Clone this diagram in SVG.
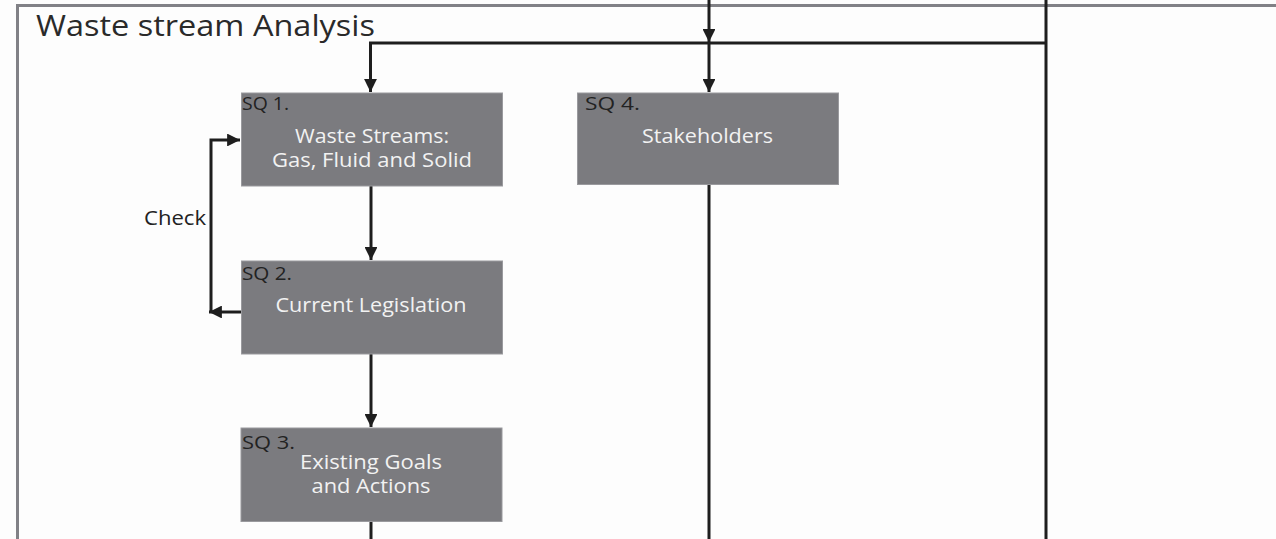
<svg xmlns="http://www.w3.org/2000/svg" width="1276" height="539" viewBox="0 0 1276 539">
<style>
.box{fill:#7b7b7f;stroke:#9a9a9e;stroke-width:1}
.lbl{font-family:"Open Sans","Liberation Sans",sans-serif;font-size:19px;fill:#222}
.txt{font-family:"Open Sans","Liberation Sans",sans-serif;font-size:20px;fill:#f2f2f2;text-anchor:middle}
.ln{fill:none;stroke:#1e1e1e;stroke-width:3}
</style>
<defs>
<marker id="ah" viewBox="0 0 10 10" refX="10" refY="5" markerWidth="4.3" markerHeight="4.3" orient="auto" markerUnits="strokeWidth">
<path d="M0,0 L10,5 L0,10 z" fill="#1e1e1e"/>
</marker>
</defs>
<rect x="0" y="0" width="1276" height="539" fill="#fdfdfd"/>
<path d="M17.5,539 V5.5 H1276" fill="none" stroke="#818186" stroke-width="3"/>
<text x="36" y="36" font-family="'Open Sans','Liberation Sans',sans-serif" font-size="29.5" fill="#2a2a2a" textLength="339" lengthAdjust="spacingAndGlyphs">Waste stream Analysis</text>
<g id="connectors">
<path class="ln" d="M709,0 V42" marker-end="url(#ah)"/>
<path class="ln" d="M1046,0 V539"/>
<path class="ln" d="M1046,43 H370.5 V92" marker-end="url(#ah)"/>
<path class="ln" d="M709,43 V92" marker-end="url(#ah)"/>
<path class="ln" d="M371,186 V260" marker-end="url(#ah)"/>
<path class="ln" d="M371,354 V427" marker-end="url(#ah)"/>
<path class="ln" d="M371,522 V539"/>
<path class="ln" d="M709,185 V539"/>
<path class="ln" d="M241,312 H209" marker-end="url(#ah)"/>
<path class="ln" d="M211,312 V140 H240" marker-end="url(#ah)"/>
<text x="144" y="225" font-family="'Open Sans','Liberation Sans',sans-serif" font-size="20" fill="#222" textLength="62" lengthAdjust="spacingAndGlyphs">Check</text>
</g>
<g id="sq1">
<rect class="box" x="241.5" y="93" width="261" height="93"/>
<text class="lbl" x="242" y="110" textLength="47" lengthAdjust="spacingAndGlyphs">SQ 1.</text>
<text class="txt" x="372" y="143" textLength="154" lengthAdjust="spacingAndGlyphs">Waste Streams:</text>
<text class="txt" x="372" y="167" textLength="200" lengthAdjust="spacingAndGlyphs">Gas, Fluid and Solid</text>
</g>
<g id="sq2">
<rect class="box" x="241.5" y="261" width="261" height="93"/>
<text class="lbl" x="242" y="280" textLength="50" lengthAdjust="spacingAndGlyphs">SQ 2.</text>
<text class="txt" x="371" y="312" textLength="191" lengthAdjust="spacingAndGlyphs">Current Legislation</text>
</g>
<g id="sq3">
<rect class="box" x="241" y="428" width="261" height="93.5"/>
<text class="lbl" x="242" y="449" textLength="53" lengthAdjust="spacingAndGlyphs">SQ 3.</text>
<text class="txt" x="371" y="469" textLength="142" lengthAdjust="spacingAndGlyphs">Existing Goals</text>
<text class="txt" x="371" y="493" textLength="119" lengthAdjust="spacingAndGlyphs">and Actions</text>
</g>
<g id="sq4">
<rect class="box" x="577.5" y="93" width="261" height="91.5"/>
<text class="lbl" x="585" y="110" textLength="55" lengthAdjust="spacingAndGlyphs">SQ 4.</text>
<text class="txt" x="707.5" y="143" textLength="131" lengthAdjust="spacingAndGlyphs">Stakeholders</text>
</g>
</svg>
